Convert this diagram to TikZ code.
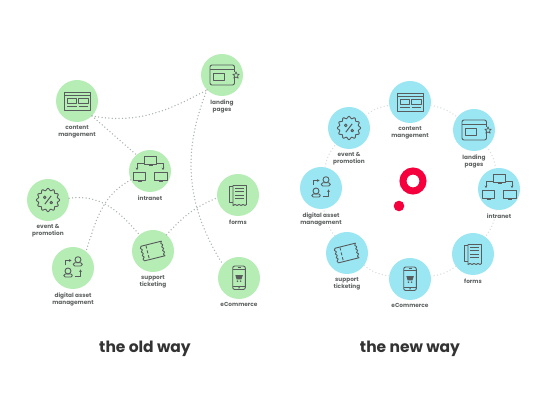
\documentclass[tikz,border=0pt]{standalone}
\usepackage{fontspec}
\setmainfont{Poppins}
\usetikzlibrary{positioning,arrows.meta,calc}
\definecolor{hubGreen}{RGB}{181,237,181}
\definecolor{hubBlue}{RGB}{154,230,243}
\definecolor{iconGrey}{RGB}{88,92,92}
\definecolor{labelGrey}{RGB}{95,98,98}
\definecolor{titleGrey}{RGB}{51,51,51}
\definecolor{oldLink}{RGB}{170,180,172}
\definecolor{newLink}{RGB}{218,222,222}
\definecolor{logoRed}{RGB}{245,0,60}
\tikzset{
  hub/.style={circle, minimum size=42pt, inner sep=0pt},
  hublabel/.style={font=\fontsize{5.8}{7.3}\selectfont\bfseries, text=labelGrey, align=center, anchor=north, fill=white, inner sep=0.6pt},
  oldlink/.style={oldLink, line width=1.5pt, dash pattern=on 0pt off 3.4pt, line cap=round},
  newlink/.style={newLink, line width=1.5pt, dash pattern=on 0pt off 3.4pt, line cap=round},
  waytitle/.style={font=\fontsize{15.5}{17}\selectfont\bfseries, text=titleGrey},
  icon/.style={draw=iconGrey, line width=0.9pt, line join=round},
  % the icons, drawn round the centre of a hub
  content icon/.pic={
    \draw[icon] (-12.5,-9) rectangle (13,9);
    \draw[icon] (-12.5,5.5) -- (13,5.5);
    \draw[icon] (-10,-2) rectangle (-0.5,3);
    \draw[icon] (1.5,-2) rectangle (11,3);
    \draw[icon, line width=1.5pt] (-10,-5.5) -- (-0.5,-5.5) (1.5,-5.5) -- (11,-5.5);
  },
  landing icon/.pic={
    \draw[icon, rounded corners=2pt] (12.5,-1) -- (12.5,-10) -- (-12,-10) -- (-12,10) -- (12.5,10) -- (12.5,3);
    \draw[icon] (-12,5.5) -- (12.5,5.5);
    \draw[icon] (-9,-5) rectangle (2,2);
    \draw[icon, line width=0.7pt] (14,3.2) -- (15,0.7) -- (17.2,0.7) -- (15.5,-1) -- (16.2,-3.2) -- (14,-2) -- (11.8,-3.2) -- (12.5,-1) -- (10.8,0.7) -- (13,0.7) -- cycle;
  },
  intranet icon/.pic={
    \foreach \cx/\cy in {0.5/10.7, -10.5/-5.5, 11/-5.5}{
      \draw[icon] (\cx-6.3,\cy-4) rectangle (\cx+6.3,\cy+4);
      \draw[icon] (\cx-2,\cy-5) -- (\cx+2,\cy-5);
    }
    \draw[icon, -{Stealth[length=2.4pt,width=2.8pt]}] (-6,8) -- (-13,8) -- (-13,1);
    \draw[icon, -{Stealth[length=2.4pt,width=2.8pt]}] (7,8) -- (13,8) -- (13,1);
  },
  event icon/.pic={
    \draw[icon] plot[domain=0:360, samples=73, smooth] ({(10.6+1.1*cos(12*\x))*cos(\x)},{(10.6+1.1*cos(12*\x))*sin(\x)}) -- cycle;
    \draw[icon, line width=1pt] (-3.2,-4.2) -- (3.2,4.2);
    \draw[icon, line width=1pt] (-3.2,2.6) circle (1.3pt) (3.2,-2.6) circle (1.3pt);
  },
  digital icon/.pic={
    \draw[icon] (5,8.3) circle (3pt);
    \draw[icon, rounded corners=1.5pt] (0.3,2) rectangle (9.3,5.2);
    \draw[icon] (-5,-3) circle (3pt);
    \draw[icon, rounded corners=1.5pt] (-9.3,-9) rectangle (-0.6,-6);
    \draw[icon, -{Stealth[length=2.4pt,width=2.8pt]}] (-7.5,2.5) -- (-7.5,7.5) -- (-1.5,7.5);
    \draw[icon, -{Stealth[length=2.4pt,width=2.8pt]}] (2,-8) -- (7.5,-8) -- (7.5,-1.5);
  },
  support icon/.pic={
    \begin{scope}[rotate=14]
      \draw[icon] (-10.5,7.5) -- (10.5,7.5) -- (9.4,5.6) -- (11,3.7) -- (9.4,1.9) -- (11,0) -- (9.4,-1.9) -- (11,-3.7) -- (9.4,-5.6) -- (10.5,-7.5)
        -- (-10.5,-7.5) -- (-11.6,-5.6) -- (-10,-3.7) -- (-11.6,-1.9) -- (-10,0) -- (-11.6,1.9) -- (-10,3.7) -- (-11.6,5.6) -- cycle;
      \draw[icon, densely dashed] (-5.5,7) -- (-5.5,-7);
    \end{scope}
  },
  forms icon/.pic={
    \draw[icon] (-5,9.5) -- (8.5,9.5) -- (8.5,-9.5) -- (7,-10.5) -- (5,-9.5) -- (3,-10.5) -- (1,-9.5) -- (-1,-10.5) -- (-3,-9.5) -- (-5,-10.5) -- cycle;
    \draw[icon] (-5,9) -- (-9,9) -- (-9,-7.5) -- (-5,-7.5);
    \foreach \ly in {6.8,3.4,0,-3.4}{
      \draw[icon] (-2.8,\ly) -- (5.8,\ly);
    }
  },
  ecommerce icon/.pic={
    \draw[icon, rounded corners=2pt] (-6.3,-11.5) rectangle (6.3,12);
    \draw[icon] (-6.3,8.2) -- (6.3,8.2) (-6.3,-8) -- (6.3,-8);
    \draw[icon] (-1.5,10.1) -- (1.5,10.1);
    \fill[iconGrey] (0,-9.8) circle (0.8pt);
    \fill[iconGrey] (-3.6,2.8) -- (3.8,2.8) -- (2.4,-1.4) -- (-2.4,-1.4) -- cycle;
    \fill[iconGrey] (-1.6,-3.2) circle (0.9pt) (1.6,-3.2) circle (0.9pt);
  },
}
\begin{document}
\begin{tikzpicture}[x=1pt, y=1pt]
\useasboundingbox (0,0) rectangle (540,406);
% old way hubs
\foreach \key/\pos in {content/{77,305}, landing/{222,331}, intranet/{150,235}, event/{48,206},
    digital/{73,138}, support/{153,155}, forms/{238,211}, ecommerce/{239,128}}{
  \node[hub, fill=hubGreen] (old-\key) at (\pos) {};
  \pic at (\pos) {\key\space icon};
}
% new way hubs
\foreach \key/\pos in {content/{410,304}, landing/{474,276}, intranet/{499,217}, forms/{473,152},
    ecommerce/{410,127}, support/{347,153}, digital/{321,218}, event/{349,278}}{
  \node[hub, fill=hubBlue] (new-\key) at (\pos) {};
  \pic at (\pos) {\key\space icon};
}
% old way links
\draw[oldlink] (old-content.-45) to[out=-10, in=208] (old-landing.225);
\draw[oldlink] (old-content.-45) -- (old-intranet.130);
\draw[oldlink] (old-intranet.205) to[out=208, in=72] (old-digital.52);
\draw[oldlink] (old-event.5) to[out=8, in=130] (old-support.130);
\draw[oldlink] (old-landing.225) to[out=248, in=122] (old-ecommerce.140);
\draw[oldlink] (old-support.50) to[out=48, in=202] (old-forms.188);
% new way links
\foreach \from/\to in {content/landing, landing/intranet, intranet/forms, forms/ecommerce,
    ecommerce/support, support/digital, digital/event, event/content}{
  \draw[newlink] (new-\from) to[bend left=14] (new-\to);
}
% labels
\foreach \way in {old,new}{
  \foreach \key/\txt in {content/{content\\mangement}, landing/{landing\\pages}, intranet/{intranet},
      event/{event \&\\promotion}, digital/{digital asset\\management}, support/{support\\ticketing},
      forms/{forms}, ecommerce/{eCommerce}}{
    \node[hublabel, below=2.5pt of \way-\key.south] (\way-\key-label) {\txt};
  }
}
\node[waytitle] (old-title) at (145,57) {the old way};
\node[waytitle] (new-title) at (410,57) {the new way};
% logo
\draw[logoRed, line width=7pt] (413,225) circle (10pt);
\fill[logoRed] (399,200) circle (5.3pt);
\end{tikzpicture}
\end{document}
